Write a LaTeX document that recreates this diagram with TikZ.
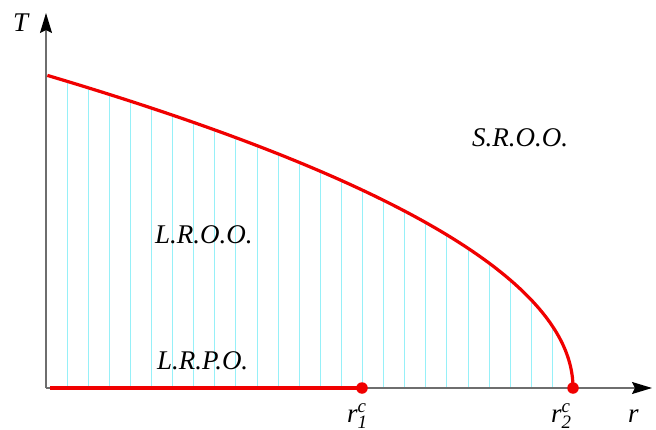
\documentclass[tikz,border=0pt]{standalone}
\usepackage{fontspec}
\setmainfont{Liberation Serif}
\usepackage{xcolor}
\usepackage{tikz}
\usetikzlibrary{positioning,arrows.meta,calc}
\definecolor{phasered}{RGB}{240,0,0}
\definecolor{hatchc}{RGB}{150,240,248}
\definecolor{axisc}{RGB}{110,110,110}
\tikzset{
  axis/.style={line width=1.5pt, axisc, -{Stealth[length=20pt, width=12pt, inset=3pt, black]}},
  boundary/.style={line width=3.2pt, phasered},
  phase/.style={line width=4.5pt, phasered},
  hatch/.style={line width=0.9pt, hatchc},
  dot/.style={circle, fill=phasered, inner sep=0pt, minimum size=11.5pt},
  lbl/.style={font=\fontsize{27}{31}\selectfont\itshape, inner sep=0pt, anchor=base west}
}

\begin{document}
\begin{tikzpicture}[x=1pt, y=1pt]
\useasboundingbox (-46,-41) rectangle (610,388);
\coordinate (O) at (0,0);
\coordinate (xend) at (606,0);
\coordinate (yend) at (0,375);
\foreach \k in {1,...,24}
  \draw[hatch] ({21.1*\k},0) -- ({21.1*\k},{313*sqrt(1-21.1*\k/527)});
\draw[axis] (O) -- (xend);
\draw[axis] (O) -- (yend);
\draw[boundary] plot[domain=0:1, samples=120, variable=\s] ({527*(1-\s*\s)}, {313*\s});
\node[dot] (r1) at (316,0) {};
\node[dot] (r2) at (527,0) {};
\draw[phase] ([xshift=4pt]O) -- (r1.center);
\node[lbl] (tlbl) at (-33,356) {T};
\node[lbl] (rlbl) at (582,-34) {r};
\node[lbl] (r1lbl) at (301,-34) {$\mathit{r}^{\mathit{c}}_{\mathit{1}}$};
\node[lbl] (r2lbl) at (505,-34) {$\mathit{r}^{\mathit{c}}_{\mathit{2}}$};
\node[lbl] (sroo) at (426,241) {S.R.O.O.};
\node[lbl] (lroo) at (109,145) {L.R.O.O.};
\node[lbl] (lrpo) at (111,19) {L.R.P.O.};
\end{tikzpicture}
\end{document}
